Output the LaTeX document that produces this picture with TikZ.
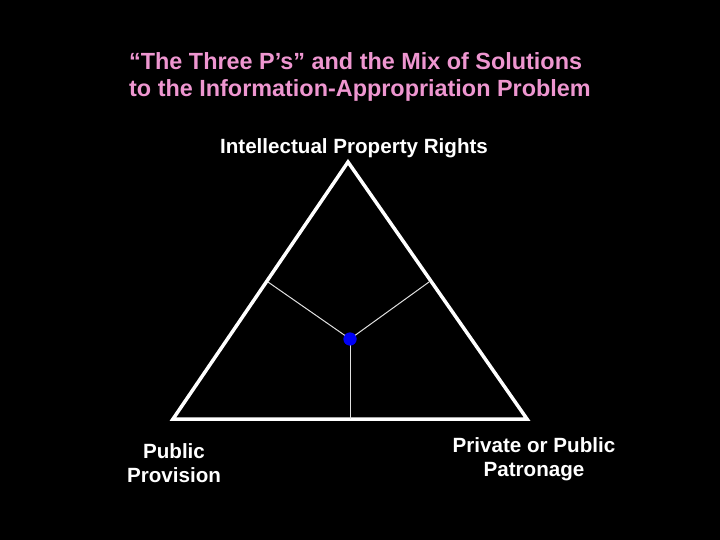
\documentclass[tikz,border=0pt]{standalone}
\usepackage{fontspec}
\setmainfont{Liberation Sans}
\definecolor{titlepink}{RGB}{238,150,208}
\definecolor{dotblue}{RGB}{0,0,245}
\begin{document}
\begin{tikzpicture}[x=1pt,y=-1pt,
  titletext/.style={text=titlepink,font=\bfseries\fontsize{23.4}{27}\selectfont,align=left,inner sep=0pt},
  label/.style={text=white,font=\bfseries\fontsize{20.6}{24}\selectfont,align=center,inner sep=0pt},
  edge/.style={draw=white,line width=3.5pt,line join=miter},
  spoke/.style={draw=white!88!black,line width=1pt}]
\fill[black] (0,0) rectangle (720,540);
\useasboundingbox (0,0) rectangle (720,540);
\node[titletext,anchor=north west] (title) at (129,52) {“The Three P’s” and the Mix of Solutions\\to the Information-Appropriation Problem};
\coordinate (A) at (348,162);
\coordinate (B) at (173,419);
\coordinate (C) at (527,419);
\draw[edge] (A) -- (B) -- (C) -- cycle;
\coordinate (L) at (268,282);
\coordinate (R) at (429,282);
\coordinate (D) at (350,419);
\node[circle,fill=dotblue,minimum size=13pt,inner sep=0pt] (dot) at (350,339) {};
\draw[spoke] (L) -- (dot.center);
\draw[spoke] (R) -- (dot.center);
\draw[spoke] (D) -- (dot.center);
\node[circle,fill=dotblue,minimum size=13pt,inner sep=0pt] at (dot) {};
\node[label] (ipr) at (354,148) {Intellectual Property Rights};
\node[label] (pp) at (174,463) {Public\\Provision};
\node[label] (ppp) at (534,459) {Private or Public\\Patronage};
\end{tikzpicture}
\end{document}
